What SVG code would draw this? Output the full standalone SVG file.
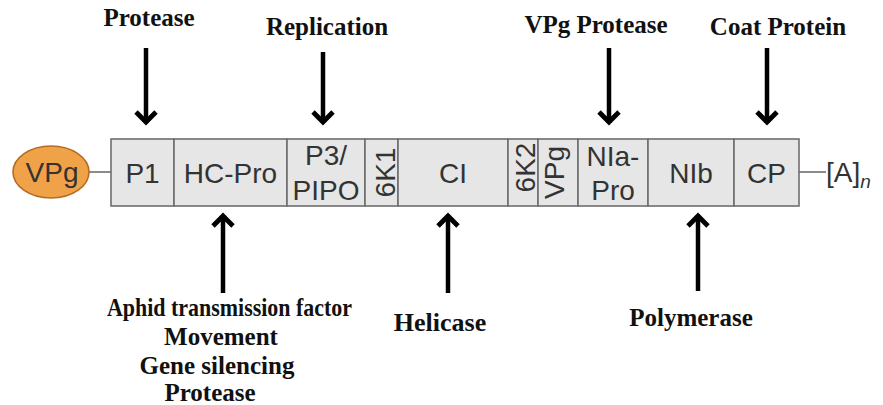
<svg xmlns="http://www.w3.org/2000/svg" width="883" height="405" viewBox="0 0 883 405">
  <style>
    .seg { fill: #e6e6e6; stroke: #6e6e6e; stroke-width: 1.6; }
    .lbl { font-family: "Liberation Sans", Arial, sans-serif; font-size: 28px; fill: #333; text-anchor: middle; }
    .fn { font-family: "Liberation Serif", "Times New Roman", serif; font-weight: bold; font-size: 25px; fill: #111; text-anchor: middle; }
    .arr { stroke: #000; stroke-width: 4.5; fill: none; marker-end: url(#head); }
    .link { stroke: #6e6e6e; stroke-width: 1.6; fill: none; }
  </style>
  <defs>
    <marker id="head" markerUnits="userSpaceOnUse" markerWidth="30" markerHeight="30" viewBox="-15 -15 30 30" refX="10" refY="0" orient="auto" overflow="visible">
      <path d="M-1,-10 L9,0 L-1,10" stroke="#000" stroke-width="4.8" fill="none" stroke-linejoin="miter"/>
    </marker>
  </defs>
  <rect width="883" height="405" fill="#fff"/>

  <!-- genome links -->
  <g id="links">
    <line class="link" x1="89" y1="172" x2="111" y2="172"/>
    <line class="link" x1="799" y1="172" x2="826" y2="172"/>
  </g>

  <!-- 5' VPg cap -->
  <g id="vpg-cap">
    <ellipse cx="51" cy="172" rx="38" ry="26" fill="#f0a248" stroke="#b46c22" stroke-width="1.6"/>
    <text class="lbl" x="52" y="182">VPg</text>
  </g>

  <!-- polyprotein segments -->
  <g id="P1">
    <rect class="seg" x="111" y="139" width="63" height="67"/>
    <text class="lbl" x="142.5" y="183">P1</text>
  </g>
  <g id="HC-Pro">
    <rect class="seg" x="174" y="139" width="113" height="67"/>
    <text class="lbl" x="230.5" y="183">HC-Pro</text>
  </g>
  <g id="P3-PIPO">
    <rect class="seg" x="287" y="139" width="78" height="67"/>
    <text class="lbl" x="326" y="165">P3/</text>
    <text class="lbl" x="326" y="200">PIPO</text>
  </g>
  <g id="6K1">
    <rect class="seg" x="365" y="139" width="33" height="67"/>
    <text class="lbl" transform="translate(395,172.5) rotate(-90)">6K1</text>
  </g>
  <g id="CI">
    <rect class="seg" x="398" y="139" width="110" height="67"/>
    <text class="lbl" x="453" y="183">CI</text>
  </g>
  <g id="6K2">
    <rect class="seg" x="508" y="139" width="30" height="67"/>
    <text class="lbl" transform="translate(535,167.5) rotate(-90)">6K2</text>
  </g>
  <g id="VPg">
    <rect class="seg" x="538" y="139" width="40" height="67"/>
    <text class="lbl" transform="translate(564,172.5) rotate(-90)">VPg</text>
  </g>
  <g id="NIa-Pro">
    <rect class="seg" x="578" y="139" width="70" height="67"/>
    <text class="lbl" x="613" y="166">NIa-</text>
    <text class="lbl" x="613" y="200">Pro</text>
  </g>
  <g id="NIb">
    <rect class="seg" x="648" y="139" width="86" height="67"/>
    <text class="lbl" x="691" y="183">NIb</text>
  </g>
  <g id="CP">
    <rect class="seg" x="734" y="139" width="65" height="67"/>
    <text class="lbl" x="766.5" y="183">CP</text>
  </g>

  <!-- 3' poly(A) tail -->
  <g id="polyA">
    <text class="lbl" x="826" y="182" style="text-anchor:start">[A]<tspan style="font-style:italic;font-size:19px" dy="6">n</tspan></text>
  </g>

  <!-- function arrows -->
  <g id="connectors">
    <line class="arr" x1="146" y1="48" x2="146" y2="123"/>
    <line class="arr" x1="323" y1="52" x2="323" y2="123"/>
    <line class="arr" x1="609" y1="48" x2="609" y2="123"/>
    <line class="arr" x1="767" y1="48" x2="767" y2="123"/>
    <line class="arr" x1="223" y1="293" x2="223" y2="215"/>
    <line class="arr" x1="448" y1="293" x2="448" y2="215"/>
    <line class="arr" x1="698" y1="291" x2="698" y2="215"/>
  </g>

  <!-- function labels -->
  <g id="fn-protease-top"><text class="fn" x="149" y="26">Protease</text></g>
  <g id="fn-replication"><text class="fn" x="327" y="35">Replication</text></g>
  <g id="fn-vpg-protease"><text class="fn" x="596" y="33">VPg Protease</text></g>
  <g id="fn-coat-protein"><text class="fn" x="778" y="35">Coat Protein</text></g>
  <g id="fn-hcpro">
    <text class="fn" x="229.5" y="316" textLength="245" lengthAdjust="spacingAndGlyphs">Aphid transmission factor</text>
    <text class="fn" x="221" y="345">Movement</text>
    <text class="fn" x="217" y="374">Gene silencing</text>
    <text class="fn" x="210" y="401">Protease</text>
  </g>
  <g id="fn-helicase"><text class="fn" x="440" y="331" style="font-size:26px">Helicase</text></g>
  <g id="fn-polymerase"><text class="fn" x="691" y="326">Polymerase</text></g>
</svg>
